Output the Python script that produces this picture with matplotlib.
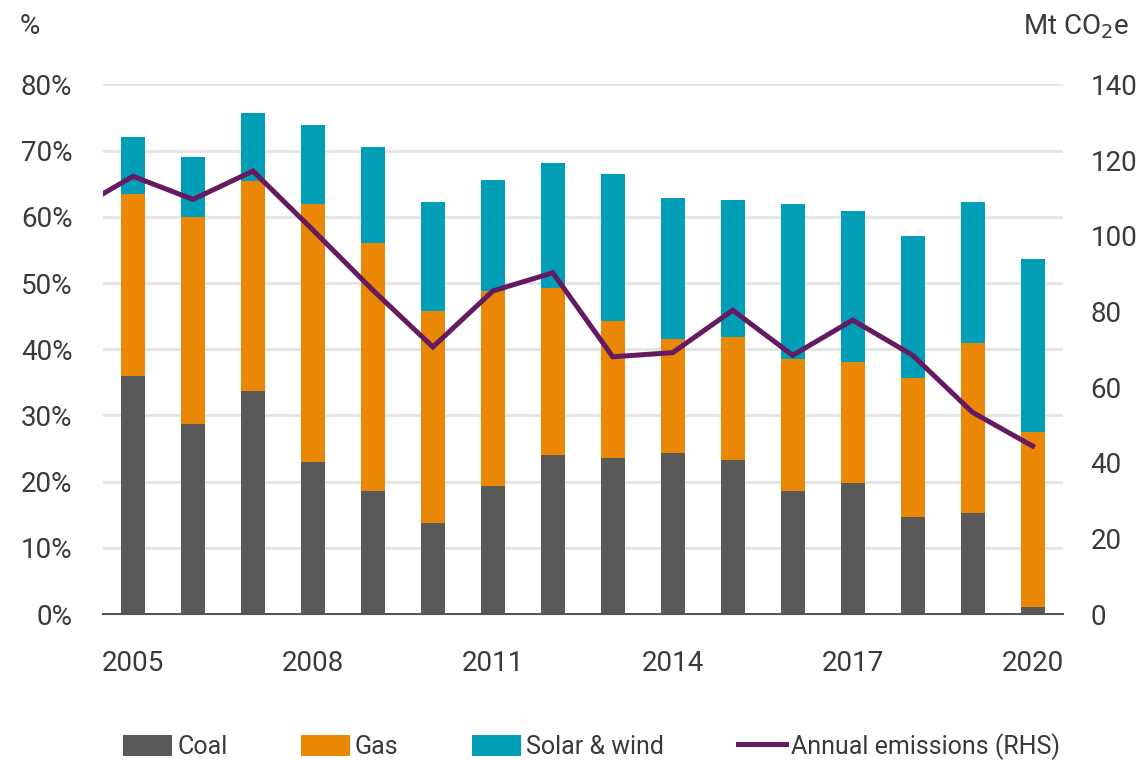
import matplotlib.pyplot as plt
from matplotlib.ticker import FuncFormatter

# shares of generation (%) and annual emissions (Mt CO2e)
years = list(range(2005, 2021))
coal = [36.0, 28.7, 33.7, 22.9, 18.6, 13.7, 19.3, 24.1, 23.6, 24.3, 23.3, 18.6, 19.8, 14.7, 15.2, 1.1]
gas_top = [63.5, 59.9, 65.4, 61.9, 56.0, 45.8, 48.8, 49.2, 44.3, 41.6, 41.9, 38.5, 38.0, 35.6, 40.9, 27.5]
solar_top = [72.0, 69.1, 75.7, 73.9, 70.5, 62.3, 65.5, 68.1, 66.5, 62.8, 62.5, 61.9, 60.8, 57.1, 62.3, 53.6]
gas = [g - c for g, c in zip(gas_top, coal)]
solar = [s - g for s, g in zip(solar_top, gas_top)]

em_years = list(range(2004, 2021))
emissions = [106.5, 115.7, 109.6, 117.1, 101.5, 85.6, 70.6, 85.4, 90.2,
             68.0, 69.1, 80.3, 68.4, 77.7, 68.4, 53.3, 44.4]

xticks = [2005, 2008, 2011, 2014, 2017, 2020]

c_coal = "#595959"
c_gas = "#EA8705"
c_solar = "#009FB7"
c_line = "#651A61"
c_text = "#3A3A3A"

plt.rcParams["font.family"] = ["Roboto", "DejaVu Sans"]
fs = 20

fig = plt.figure(figsize=(11.45, 7.6), dpi=100)
ax = fig.add_axes([0.09, 0.192, 0.838, 0.697])

w = 0.4
ax.bar(years, coal, width=w, color=c_coal, label="Coal", zorder=2)
ax.bar(years, gas, width=w, bottom=coal, color=c_gas, label="Gas", zorder=2)
ax.bar(years, solar, width=w, bottom=gas_top, color=c_solar, label="Solar & wind", zorder=2)

ax.set_xlim(2004.5, 2020.5)
ax.set_ylim(0, 80)
ax.set_yticks(range(0, 81, 10))
ax.yaxis.set_major_formatter(FuncFormatter(lambda v, p: f"{v:.0f}%"))
ax.set_xticks(xticks)
ax.grid(axis="y", color="#E3E3E3", linewidth=2, zorder=0)
for s in ["top", "right", "left"]:
    ax.spines[s].set_visible(False)
ax.spines["bottom"].set_color("#555555")
ax.spines["bottom"].set_linewidth(1.5)
ax.spines["bottom"].set_zorder(3)
ax.tick_params(axis="both", length=0, labelsize=fs, colors=c_text)
ax.tick_params(axis="x", pad=26)
ax.tick_params(axis="y", pad=22)

ax2 = ax.twinx()
ax2.plot(em_years, emissions, color=c_line, linewidth=3.6, solid_joinstyle="miter",
         label="Annual emissions (RHS)", zorder=4)
ax2.set_ylim(0, 140)
ax2.set_yticks(range(0, 141, 20))
for s in ["top", "right", "left", "bottom"]:
    ax2.spines[s].set_visible(False)
ax2.tick_params(axis="y", length=0, labelsize=fs, colors=c_text, pad=20)

fig.text(0.017, 0.965, "%", fontsize=fs, color=c_text, va="center", ha="left")
fig.text(0.986, 0.965, "Mt CO$_2$e", fontsize=fs, color=c_text, va="center", ha="right")

h1, l1 = ax.get_legend_handles_labels()
h2, l2 = ax2.get_legend_handles_labels()
fig.legend(h1 + h2, l1 + l2, loc="center", bbox_to_anchor=(0.517, 0.018), ncol=4,
           frameon=False, fontsize=18, labelcolor=c_text, handlelength=1.95,
           handleheight=0.9, handletextpad=0.2, columnspacing=2.95)

fig.savefig("out.png", dpi=100)
